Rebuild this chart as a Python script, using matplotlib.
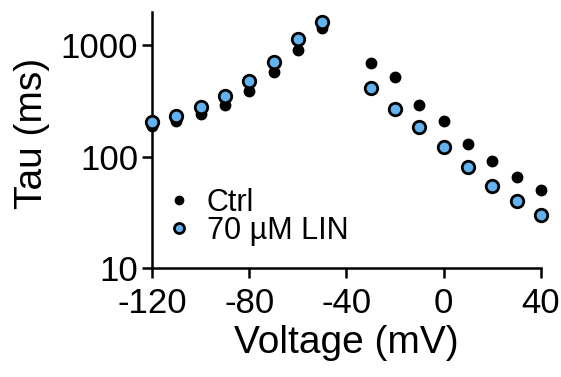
import numpy as np
from matplotlib import pyplot as plt
from matplotlib.ticker import FixedLocator, NullLocator

plt.rcParams['font.family'] = ['Liberation Sans', 'DejaVu Sans']

# data
voltage = [-120, -110, -100, -90, -80, -70, -60, -50,
           -30, -20, -10, 0, 10, 20, 30, 40]
tau_ctrl = [188, 209, 240, 290, 386, 577, 902, 1412,
            693, 520, 290, 209, 129, 92, 66, 50]
tau_lin = [205, 232, 280, 349, 479, 708, 1125, 1618,
           409, 265, 185, 121, 80, 55, 40, 30]
xticks = [-120, -80, -40, 0, 40]
yticks = [10, 100, 1000]

fig = plt.figure(figsize=(5.61, 3.77), dpi=100)
ax = fig.add_axes([0.271, 0.289, 0.693, 0.679])

ax.plot(voltage, tau_ctrl, 'o', color='black', markersize=7.5,
        linestyle='none', clip_on=False, zorder=3, label='Ctrl')
ax.plot(voltage, tau_lin, 'o', markerfacecolor='#62b2f0', markeredgecolor='black',
        markeredgewidth=2, markersize=9, linestyle='none', clip_on=False,
        zorder=4, label='70 µM LIN')

ax.set_yscale('log')
ax.set_xlim(-120, 40)
ax.set_ylim(10, 1980)
ax.xaxis.set_major_locator(FixedLocator(xticks))
ax.yaxis.set_major_locator(FixedLocator(yticks))
ax.yaxis.set_minor_locator(NullLocator())
ax.set_yticklabels([str(t) for t in yticks])
ax.set_xticklabels([str(t) for t in xticks])

for s in ['top', 'right']:
    ax.spines[s].set_visible(False)
for s in ['left', 'bottom']:
    ax.spines[s].set_linewidth(1.8)
ax.tick_params(width=1.8, length=7, labelsize=25)
ax.tick_params(axis='y', pad=3)
ax.tick_params(axis='x', pad=6.5)

ax.set_xlabel('Voltage (mV)', fontsize=28, labelpad=4)
ax.set_ylabel('Tau (ms)', fontsize=28, labelpad=7.5)
ax.yaxis.label.set_y(0.525)

ax.legend(loc='center left', bbox_to_anchor=(0.023, 0.2), frameon=False,
          fontsize=22, handletextpad=0.3, labelspacing=-0.05, borderaxespad=0,
          borderpad=0, handlelength=1.2, markerscale=0.8)

plt.savefig('out.png', dpi=100)
